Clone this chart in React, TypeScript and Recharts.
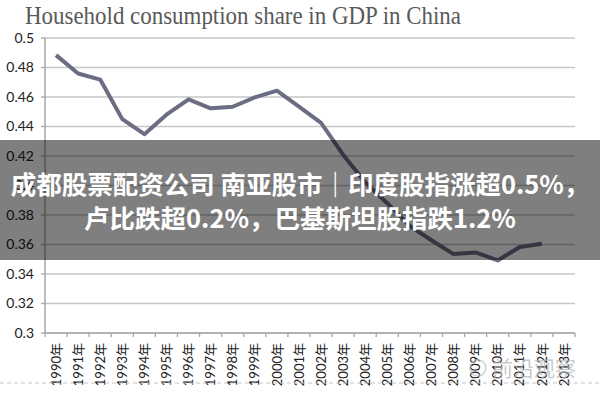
import React from "react";
import { LineChart, Line, XAxis, YAxis, CartesianGrid } from "recharts";

const title = "Household consumption share in GDP in China";

const years = [
  "1990年", "1991年", "1992年", "1993年", "1994年", "1995年", "1996年", "1997年",
  "1998年", "1999年", "2000年", "2001年", "2002年", "2003年", "2004年", "2005年",
  "2006年", "2007年", "2008年", "2009年", "2010年", "2011年", "2012年", "2013年",
];

const share: (number | null)[] = [
  0.4884, 0.4759, 0.4718, 0.445, 0.4348, 0.448, 0.4584, 0.4523,
  0.4534, 0.4598, 0.4643, 0.4535, 0.4424, 0.4209, 0.4022, 0.388,
  0.3727, 0.3629, 0.3535, 0.3546, 0.3492, 0.3583, 0.3605, null,
];

const yTicks = [0.3, 0.32, 0.34, 0.36, 0.38, 0.4, 0.42, 0.44, 0.46, 0.48, 0.5];
const yLabels = ["0.3", "0.32", "0.34", "0.36", "0.38", "0.4", "0.42", "0.44", "0.46", "0.48", "0.5"];

const bannerLines = [
  "成都股票配资公司 南亚股市｜印度股指涨超0.5%，",
  "卢比跌超0.2%，巴基斯坦股指跌1.2%",
];

const watermark = "前沿观察";

const data = years.map((year, i) => ({ x: i + 0.5, year, share: share[i] }));
const xTicks: number[] = [];
for (let i = 0; i <= years.length; i++) {
  xTicks.push(i);
  if (i < years.length) xTicks.push(i + 0.5);
}

const XTick = (props: any) => {
  const { x, y, payload } = props;
  const v = payload.value as number;
  if (Number.isInteger(v)) {
    return <line x1={x} y1={y} x2={x} y2={y + 4} stroke="#a6a6a6" strokeWidth={1.3} />;
  }
  const label = years[Math.floor(v)];
  const ay = y + 10;
  return (
    <text
      x={x}
      y={ay}
      transform={`rotate(-90 ${x} ${ay})`}
      textAnchor="end"
      dy="0.36em"
      fontSize={13}
      fontFamily="Lato, 'Noto Sans CJK SC', sans-serif"
      fill="#222"
    >
      {label}
    </text>
  );
};

export default function App() {
  return (
    <div style={{ position: "absolute", left: 0, top: 0, width: 600, height: 400, background: "#fff", overflow: "hidden" }}>
      <LineChart width={600} height={400} data={data} margin={{ top: 38, right: 25, left: 0, bottom: 0 }}>
        <CartesianGrid vertical={false} stroke="#c6c6c6" strokeWidth={1.5} />
        <XAxis
          dataKey="x"
          type="number"
          domain={[0, years.length]}
          ticks={xTicks}
          interval={0}
          height={67}
          tickSize={0}
          tickMargin={0}
          tickLine={false}
          axisLine={{ stroke: "#a6a6a6", strokeWidth: 1.5 }}
          tick={<XTick />}
        />
        <YAxis
          type="number"
          domain={[0.3, 0.5]}
          ticks={yTicks}
          interval={0}
          width={45}
          tickSize={4}
          tickMargin={7}
          axisLine={{ stroke: "#a6a6a6", strokeWidth: 1.5 }}
          tickLine={{ stroke: "#a6a6a6", strokeWidth: 1.3 }}
          tick={{ fill: "#222", fontSize: 14, fontFamily: "Lato, sans-serif" }}
          tickFormatter={(v: number) => yLabels[yTicks.findIndex((t) => Math.abs(t - v) < 1e-9)] ?? String(v)}
        />
        <Line
          type="linear"
          dataKey="share"
          stroke="#6b6d83"
          strokeWidth={4}
          dot={false}
          activeDot={false}
          strokeLinejoin="round"
          isAnimationActive={false}
        />
      </LineChart>
      <svg width={600} height={400} style={{ position: "absolute", left: 0, top: 0, pointerEvents: "none" }}>
        <text
          x={25}
          y={24}
          fontSize={25}
          fontFamily="'Liberation Serif', serif"
          fill="#595959"
          textLength={436}
          lengthAdjust="spacingAndGlyphs"
        >
          {title}
        </text>
        <line x1={0} y1={383} x2={600} y2={383} stroke="#c4c4c4" strokeWidth={1} strokeDasharray="4 3" />
        <text
          x={492}
          y={376}
          fontSize={21}
          fontFamily="'Noto Sans CJK SC', sans-serif"
          fill="#b4b4b4"
          opacity={0.7}
        >
          {watermark}
        </text>
        <circle cx={478} cy={368} r={8} fill="none" stroke="#c0c0c0" strokeWidth={2} opacity={0.6} />
      </svg>
      <div
        style={{
          position: "absolute",
          left: 0,
          top: 140,
          width: 600,
          height: 120,
          background: "rgba(0,0,0,0.5)",
          display: "flex",
          flexDirection: "column",
          alignItems: "center",
          justifyContent: "center",
          color: "#fff",
          fontFamily: "'Noto Sans CJK SC', sans-serif",
          fontWeight: 700,
          fontSize: 25.5,
          lineHeight: "34px",
          whiteSpace: "nowrap",
        }}
      >
        {bannerLines.map((l, i) => (
          <div key={i}>{l}</div>
        ))}
      </div>
    </div>
  );
}
